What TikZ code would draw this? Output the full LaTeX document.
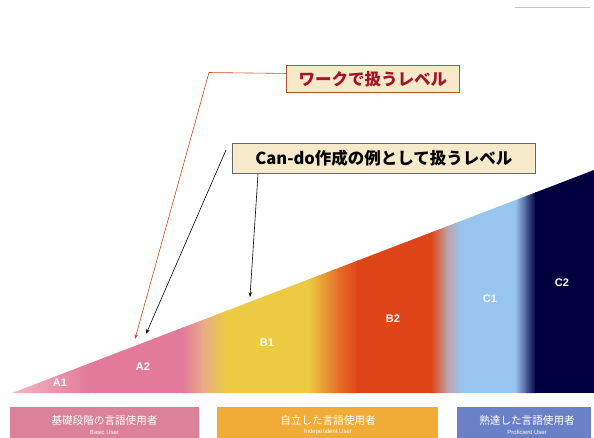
\documentclass[tikz,border=0pt]{standalone}
\usepackage{fontspec}
\setmainfont{Liberation Sans}
\newfontfamily\jp{Noto Sans CJK JP}
\usetikzlibrary{arrows.meta,calc}
\definecolor{cA1}{HTML}{F2B8C2}
\definecolor{cA2}{HTML}{E3799B}
\definecolor{cPeach}{HTML}{E9A98A}
\definecolor{cB1}{HTML}{ECCB42}
\definecolor{cOr}{HTML}{E8782A}
\definecolor{cB2}{HTML}{DF4419}
\definecolor{cGr}{HTML}{C0A0A0}
\definecolor{cC1}{HTML}{98C4F0}
\definecolor{cMid}{HTML}{4A5C94}
\definecolor{cC2}{HTML}{00003E}
\definecolor{uPink}{HTML}{DC819A}
\definecolor{uOrange}{HTML}{F0AC36}
\definecolor{uBlue}{HTML}{6B81C7}
\definecolor{lblFill}{HTML}{F6EACB}
\definecolor{lblBrown}{HTML}{B5532B}
\definecolor{lblRed}{HTML}{A5122A}
\definecolor{arrOr}{HTML}{C0501E}
\tikzset{
  lvl/.style={text=white, font=\bfseries\fontsize{11}{12}\selectfont, inner sep=0pt},
  ubox/.style={minimum height=40pt, inner sep=0pt, anchor=north west},
  utxt/.style={text=white, font=\jp\fontsize{10.6}{12}\selectfont, inner sep=0pt},
  usub/.style={text=white, font=\fontsize{6}{7}\selectfont, inner sep=0pt},
  lbl/.style={fill=lblFill, line width=0.9pt, inner sep=0pt, anchor=north west, font=\jp\bfseries\fontsize{16.5}{18}\selectfont},
  conn/.style={line width=0.6pt, -{Stealth[length=5pt,width=3.5pt]}}
}
\begin{document}
\begin{tikzpicture}[x=1pt,y=-1pt]
\useasboundingbox (0,0) rectangle (594,437);
\fill[white] (0,0) rectangle (594,437);
\draw[black!22, line width=1pt] (515,7.5) -- (590,7.5);
% graded triangle
\begin{scope}
\clip (12,393) -- (594,170) -- (594,393) -- cycle;
\shade[left color=cA1, right color=cA2] (12,160) rectangle (90,393);
\fill[cA2] (89,160) rectangle (183,393);
\shade[left color=cA2, right color=cPeach] (182,160) rectangle (203,393);
\shade[left color=cPeach, right color=cB1] (202,160) rectangle (226,393);
\fill[cB1] (225,160) rectangle (309,393);
\shade[left color=cB1, right color=cOr] (308,160) rectangle (335,393);
\shade[left color=cOr, right color=cB2] (334,160) rectangle (358,393);
\fill[cB2] (357,160) rectangle (432,393);
\shade[left color=cB2, right color=cGr] (431,160) rectangle (447,393);
\shade[left color=cGr, right color=cC1] (446,160) rectangle (461,393);
\fill[cC1] (460,160) rectangle (516,393);
\shade[left color=cC1, right color=cMid] (515,160) rectangle (527,393);
\shade[left color=cMid, right color=cC2] (526,160) rectangle (536,393);
\fill[cC2] (535,160) rectangle (595,393);
\end{scope}
\node[lvl] (A1) at (60,383) {A1};
\node[lvl] (A2) at (143,367) {A2};
\node[lvl] (B1) at (267,343) {B1};
\node[lvl] (B2) at (393,319) {B2};
\node[lvl] (C1) at (490,299) {C1};
\node[lvl] (C2) at (562,283) {C2};
% user boxes
\node[ubox, fill=uPink, minimum width=189pt] (u1) at (10,407) {};
\node[ubox, fill=uOrange, minimum width=221pt] (u2) at (217,407) {};
\node[ubox, fill=uBlue, minimum width=134pt] (u3) at (457,407) {};
\node[utxt] (t1) at (104.5,420.5) {基礎段階の言語使用者};
\node[utxt] (t2) at (328,420.5) {自立した言語使用者};
\node[utxt] (t3) at (527,420.5) {熟達した言語使用者};
\node[usub] (s1) at (104.5,432) {Basic User};
\node[usub] (s2) at (328,432) {Independent User};
\node[usub] (s3) at (527,432) {Proficient User};
% labels
\node[lbl, draw=lblBrown, text=lblRed, minimum width=173pt, minimum height=27pt] (w1) at (286,65) {ワークで扱うレベル};
\node[lbl, draw=black!60, text=black, minimum width=303pt, minimum height=30pt] (w2) at (232,143) {Can-do作成の例として扱うレベル};
% connectors
\coordinate (w1in) at ([yshift=5.5pt]w1.west);
\coordinate (bend1) at (209,72.5);
\coordinate (tipA) at (135,339);
\coordinate (startB) at (226,150);
\coordinate (tipB) at (146,334);
\coordinate (w2out) at ([xshift=26pt]w2.south west);
\coordinate (tipC) at (250,297);
\draw[conn, arrOr] (w1in) -- (bend1) -- (tipA);
\draw[conn] (startB) -- (tipB);
\draw[conn] (w2out) -- (tipC);
\end{tikzpicture}
\end{document}
